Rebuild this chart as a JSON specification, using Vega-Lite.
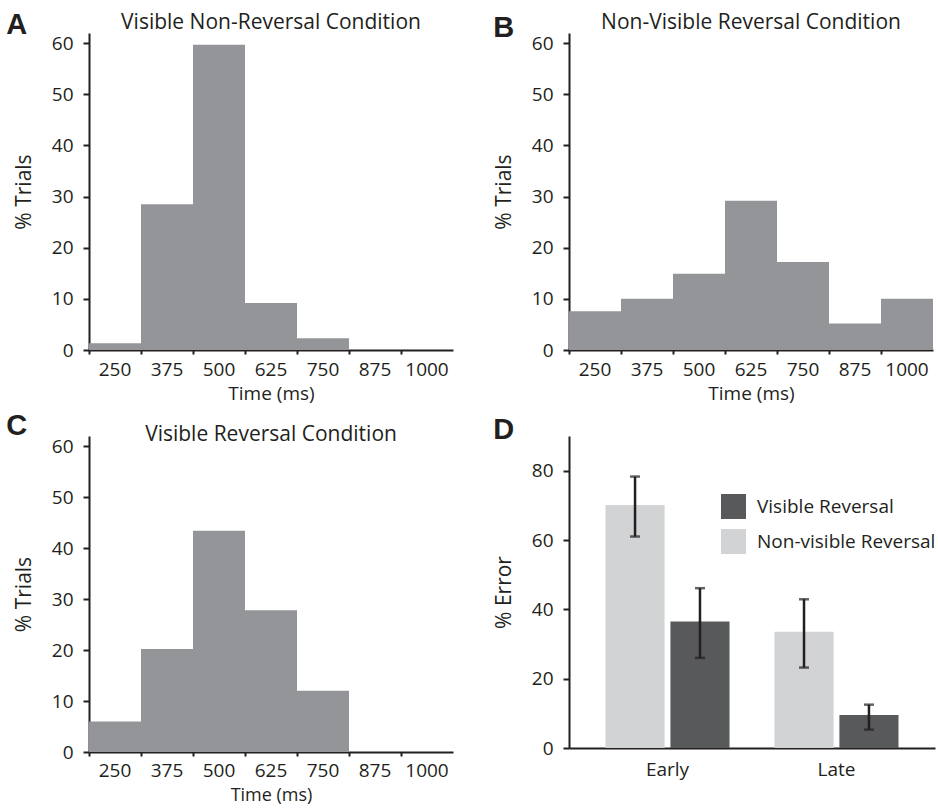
{
  "$schema": "https://vega.github.io/schema/vega-lite/v6.json",
  "background": "white",
  "padding": {"left": 6, "top": 11, "right": 2, "bottom": 0},
  "config": {
    "font": "Open Sans",
    "view": {"stroke": null},
    "axis": {
      "domainColor": "#231f20", "domainWidth": 2, "tickColor": "#231f20", "tickWidth": 2,
      "labelColor": "#231f20", "labelFontSize": 19, "titleFontSize": 19, "titleColor": "#231f20",
      "titleFontWeight": "normal", "grid": false, "labelFont": "Open Sans", "titleFont": "Open Sans"
    },
    "title": {"color": "#231f20", "font": "Open Sans"},
    "legend": {"labelFont": "Open Sans"}
  },
  "datasets": {
    "hist": [
      {"panel": "A", "time": 250, "pct": 1.3}, {"panel": "A", "time": 375, "pct": 28.5}, {"panel": "A", "time": 500, "pct": 59.7},
      {"panel": "A", "time": 625, "pct": 9.2}, {"panel": "A", "time": 750, "pct": 2.3}, {"panel": "A", "time": 875, "pct": 0}, {"panel": "A", "time": 1000, "pct": 0},
      {"panel": "B", "time": 250, "pct": 7.6}, {"panel": "B", "time": 375, "pct": 10.0}, {"panel": "B", "time": 500, "pct": 14.9},
      {"panel": "B", "time": 625, "pct": 29.2}, {"panel": "B", "time": 750, "pct": 17.2}, {"panel": "B", "time": 875, "pct": 5.2}, {"panel": "B", "time": 1000, "pct": 10.0},
      {"panel": "C", "time": 250, "pct": 6.0}, {"panel": "C", "time": 375, "pct": 20.2}, {"panel": "C", "time": 500, "pct": 43.4},
      {"panel": "C", "time": 625, "pct": 27.8}, {"panel": "C", "time": 750, "pct": 12.0}, {"panel": "C", "time": 875, "pct": 0}, {"panel": "C", "time": 1000, "pct": 0}
    ],
    "err": [
      {"phase": "Early", "cond": "Non-visible Reversal", "value": 70.1, "lo": 61.0, "hi": 78.3},
      {"phase": "Early", "cond": "Visible Reversal", "value": 36.5, "lo": 26.0, "hi": 46.1},
      {"phase": "Late", "cond": "Non-visible Reversal", "value": 33.5, "lo": 23.2, "hi": 42.9},
      {"phase": "Late", "cond": "Visible Reversal", "value": 9.5, "lo": 5.3, "hi": 12.5}
    ]
  },
  "spacing": 9,
  "vconcat": [
    {
      "spacing": 40,
      "hconcat": [
        {
          "title": {"text": "A", "anchor": "start", "font": "Liberation Sans", "fontSize": 29, "fontWeight": "bold", "offset": -28, "dx": -7, "baseline": "top"},
          "vconcat": [{
            "title": {"text": "Visible Non-Reversal Condition", "anchor": "middle", "fontSize": 21, "fontWeight": "normal", "offset": 0},
            "width": 364, "height": 317,
            "data": {"name": "hist"},
            "transform": [{"filter": "datum.panel == 'A'"}],
            "mark": {"type": "bar", "color": "#939598"},
            "encoding": {
              "x": {"field": "time", "type": "ordinal", "title": "Time (ms)", "scale": {"paddingInner": 0, "paddingOuter": 0},
                    "axis": {"labelAngle": 0, "bandPosition": 0, "tickSize": 4, "labelPadding": 6, "titlePadding": 5}},
              "y": {"field": "pct", "type": "quantitative", "title": "% Trials", "scale": {"domain": [0, 62]},
                    "axis": {"values": [0, 10, 20, 30, 40, 50, 60], "tickSize": 6, "labelPadding": 10, "titlePadding": 17, "titleFontSize": 21}}
            }
          }]
        },
        {
          "title": {"text": "B", "anchor": "start", "font": "Liberation Sans", "fontSize": 29, "fontWeight": "bold", "offset": -31, "dx": 0, "baseline": "top"},
          "vconcat": [{
            "title": {"text": "Non-Visible Reversal Condition", "anchor": "middle", "fontSize": 21, "fontWeight": "normal", "offset": 0},
            "width": 364, "height": 317,
            "data": {"name": "hist"},
            "transform": [{"filter": "datum.panel == 'B'"}],
            "mark": {"type": "bar", "color": "#939598"},
            "encoding": {
              "x": {"field": "time", "type": "ordinal", "title": "Time (ms)", "scale": {"paddingInner": 0, "paddingOuter": 0},
                    "axis": {"labelAngle": 0, "bandPosition": 0, "tickSize": 4, "labelPadding": 6, "titlePadding": 5}},
              "y": {"field": "pct", "type": "quantitative", "title": "% Trials", "scale": {"domain": [0, 62]},
                    "axis": {"values": [0, 10, 20, 30, 40, 50, 60], "tickSize": 6, "labelPadding": 10, "titlePadding": 17, "titleFontSize": 21}}
            }
          }]
        }
      ]
    },
    {
      "spacing": 40,
      "hconcat": [
        {
          "title": {"text": "C", "anchor": "start", "font": "Liberation Sans", "fontSize": 29, "fontWeight": "bold", "offset": -17, "dx": -7, "baseline": "top"},
          "vconcat": [{
            "title": {"text": "Visible Reversal Condition", "anchor": "middle", "fontSize": 21, "fontWeight": "normal", "offset": -9},
            "width": 364, "height": 316,
            "data": {"name": "hist"},
            "transform": [{"filter": "datum.panel == 'C'"}],
            "mark": {"type": "bar", "color": "#939598"},
            "encoding": {
              "x": {"field": "time", "type": "ordinal", "title": "Time (ms)", "scale": {"paddingInner": 0, "paddingOuter": 0},
                    "axis": {"labelAngle": 0, "bandPosition": 0, "tickSize": 4, "labelPadding": 5, "titlePadding": 6, "titleFontSize": 18}},
              "y": {"field": "pct", "type": "quantitative", "title": "% Trials", "scale": {"domain": [0, 62]},
                    "axis": {"values": [0, 10, 20, 30, 40, 50, 60], "tickSize": 6, "labelPadding": 10, "titlePadding": 17, "titleFontSize": 21}}
            }
          }]
        },
        {
          "title": {"text": "D", "anchor": "start", "font": "Liberation Sans", "fontSize": 29, "fontWeight": "bold", "offset": -9, "dx": 0, "baseline": "top"},
          "vconcat": [{
            "width": 366, "height": 312,
            "data": {"name": "err"},
            "encoding": {
              "x": {"field": "phase", "type": "nominal", "title": null, "scale": {"paddingInner": 0.266, "paddingOuter": 0.216},
                    "axis": {"labelAngle": 0, "ticks": false, "labelPadding": 12}},
              "xOffset": {"field": "cond", "type": "nominal", "sort": ["Non-visible Reversal", "Visible Reversal"], "scale": {"paddingInner": 0.09, "paddingOuter": 0}}
            },
            "layer": [
              {
                "mark": {"type": "bar"},
                "encoding": {
                  "y": {"field": "value", "type": "quantitative", "title": "% Error", "scale": {"domain": [0, 90]},
                        "axis": {"values": [0, 10, 20, 30, 40, 50, 60, 70, 80], "labelExpr": "datum.value % 20 == 0 ? datum.label : ''", "tickSize": 6, "labelPadding": 10, "titlePadding": 17, "titleFontSize": 21}},
                  "color": {"field": "cond", "type": "nominal", "title": null,
                            "scale": {"domain": ["Visible Reversal", "Non-visible Reversal"], "range": ["#58595b", "#d1d3d4"]},
                            "legend": {"orient": "none", "legendX": 632, "legendY": 461, "symbolType": "square", "symbolSize": 625, "symbolStrokeWidth": 0,
                                       "symbolOpacity": 1, "labelFontSize": 19, "labelLimit": 0, "labelColor": "#231f20", "labelOffset": 11, "rowPadding": 10, "padding": 0}}
                }
              },
              {
                "mark": {"type": "rule", "color": "#231f20", "strokeWidth": 2.5},
                "encoding": {"y": {"field": "lo", "type": "quantitative"}, "y2": {"field": "hi"}}
              },
              {
                "mark": {"type": "tick", "color": "#231f20", "thickness": 2.5, "size": 10},
                "encoding": {"y": {"field": "lo", "type": "quantitative"}}
              },
              {
                "mark": {"type": "tick", "color": "#231f20", "thickness": 2.5, "size": 10},
                "encoding": {"y": {"field": "hi", "type": "quantitative"}}
              }
            ]
          }]
        }
      ]
    }
  ]
}
